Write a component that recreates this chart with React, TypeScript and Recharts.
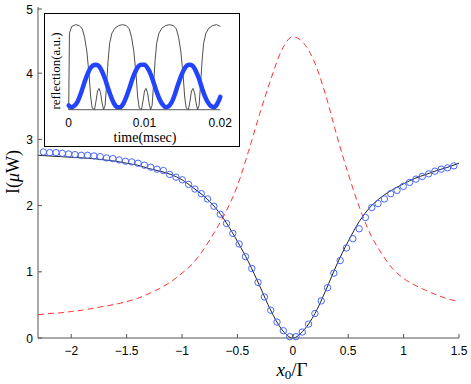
import React from "react";
import { ComposedChart, LineChart, Line, Scatter, XAxis, YAxis } from "recharts";

// measured points (circles)
const circleX = [
  -2.2515, -2.1945, -2.1375, -2.0805, -2.0235, -1.9665, -1.9095, -1.8525, -1.7955, -1.7385,
  -1.6815, -1.6245, -1.5675, -1.5105, -1.4535, -1.3965, -1.3395, -1.2825, -1.2255, -1.1685,
  -1.1115, -1.0545, -0.9975, -0.9405, -0.8835, -0.8265, -0.7695, -0.7125, -0.6555, -0.5985,
  -0.5415, -0.4845, -0.4275, -0.3705, -0.3135, -0.2565, -0.1995, -0.1425, -0.0855, -0.0285,
  0.0285, 0.0855, 0.1425, 0.1995, 0.2565, 0.3135, 0.3705, 0.4275, 0.4845, 0.5415,
  0.5985, 0.6555, 0.7125, 0.7695, 0.8265, 0.8835, 0.9405, 0.9975, 1.0545, 1.1115,
  1.1685, 1.2255, 1.2825, 1.3395, 1.3965, 1.4535,
];
const circleY = [
  2.81, 2.8, 2.8, 2.79, 2.78, 2.77, 2.76, 2.76, 2.75, 2.74,
  2.72, 2.71, 2.69, 2.67, 2.66, 2.64, 2.61, 2.58, 2.55, 2.53,
  2.47, 2.43, 2.39, 2.32, 2.25, 2.18, 2.1, 1.99, 1.87, 1.73,
  1.58, 1.42, 1.23, 1.05, 0.84, 0.62, 0.42, 0.24, 0.11, 0.02,
  0.02, 0.09, 0.21, 0.37, 0.56, 0.76, 0.98, 1.17, 1.36, 1.5,
  1.65, 1.82, 1.97, 2.03, 2.1, 2.18, 2.23, 2.29, 2.35, 2.4,
  2.44, 2.48, 2.52, 2.55, 2.57, 2.6,
];

// theory curves on a 0.1 grid
const gridX = [
  -2.3, -2.2, -2.1, -2.0, -1.9, -1.8, -1.7, -1.6, -1.5, -1.4,
  -1.3, -1.2, -1.1, -1.0, -0.9, -0.8, -0.7, -0.6, -0.5, -0.4,
  -0.3, -0.2, -0.1, 0, 0.1, 0.2, 0.3, 0.4, 0.5, 0.6,
  0.7, 0.8, 0.9, 1.0, 1.1, 1.2, 1.3, 1.4, 1.5,
];
const fitY = [
  2.76, 2.75, 2.74, 2.73, 2.72, 2.71, 2.69, 2.67, 2.64, 2.61,
  2.56, 2.52, 2.47, 2.39, 2.27, 2.14, 1.97, 1.74, 1.46, 1.15,
  0.79, 0.42, 0.13, 0.0, 0.12, 0.37, 0.73, 1.12, 1.46, 1.76,
  1.98, 2.13, 2.24, 2.33, 2.41, 2.47, 2.53, 2.58, 2.64,
];
const redY = [
  0.35, 0.37, 0.38, 0.4, 0.42, 0.45, 0.48, 0.51, 0.55, 0.6,
  0.67, 0.75, 0.85, 0.98, 1.13, 1.35, 1.62, 1.92, 2.3, 2.82,
  3.38, 3.9, 4.35, 4.55, 4.45, 4.15, 3.65, 3.04, 2.48, 1.98,
  1.57, 1.28, 1.05, 0.9, 0.8, 0.72, 0.65, 0.59, 0.55,
];

const xTicks = [-2, -1.5, -1, -0.5, 0, 0.5, 1, 1.5];
const yTicks = [0, 1, 2, 3, 4, 5];

// inset: reflection traces vs time (msec)
const blackT = [
  0, 0.0001, 0.0004, 0.0009, 0.0014, 0.0018, 0.0021, 0.0024, 0.0027, 0.0029,
  0.0031, 0.0034, 0.0036, 0.0038, 0.004, 0.0042, 0.0044, 0.0046, 0.0048, 0.005,
  0.0052, 0.0054, 0.0057, 0.0061, 0.0066, 0.0071, 0.0076, 0.008, 0.0083, 0.0086,
  0.0089, 0.0091, 0.0093, 0.0096, 0.0098, 0.01, 0.0102, 0.0104, 0.0106, 0.0108,
  0.011, 0.0112, 0.0114, 0.0116, 0.0119, 0.0123, 0.0128, 0.0133, 0.0138, 0.0142,
  0.0145, 0.0148, 0.0151, 0.0153, 0.0155, 0.0158, 0.016, 0.0162, 0.0164, 0.0166,
  0.0168, 0.017, 0.0172, 0.0174, 0.0176, 0.0178, 0.0181, 0.0185, 0.019, 0.0195,
  0.02,
];
const blackV = [
  0, 0.9, 0.98, 1.0, 0.99, 0.95, 0.85, 0.68, 0.4, 0.15,
  0.02, 0, 0.1, 0.22, 0.25, 0.2, 0.08, 0, 0.05, 0.3,
  0.58, 0.78, 0.9, 0.96, 0.99, 1.0, 0.99, 0.95, 0.85, 0.68,
  0.4, 0.15, 0.02, 0, 0.1, 0.22, 0.25, 0.2, 0.08, 0,
  0.05, 0.3, 0.58, 0.78, 0.9, 0.96, 0.99, 1.0, 0.99, 0.95,
  0.85, 0.68, 0.4, 0.15, 0.02, 0, 0.1, 0.22, 0.25, 0.2,
  0.08, 0, 0.05, 0.3, 0.58, 0.78, 0.9, 0.96, 0.99, 1.0,
  0.98,
];
const blueT = [
  0, 0.0004, 0.0008, 0.0012, 0.0016, 0.002, 0.0024, 0.0028, 0.0032, 0.0036,
  0.004, 0.0044, 0.0048, 0.0052, 0.0056, 0.006, 0.0064, 0.0068, 0.0072, 0.0076,
  0.008, 0.0084, 0.0088, 0.0092, 0.0096, 0.01, 0.0104, 0.0108, 0.0112, 0.0116,
  0.012, 0.0124, 0.0128, 0.0132, 0.0136, 0.014, 0.0144, 0.0148, 0.0152, 0.0156,
  0.016, 0.0164, 0.0168, 0.0172, 0.0176, 0.018, 0.0184, 0.0188, 0.0192, 0.0196,
  0.02,
];
const blueV = [
  0.05, 0.03, 0.05, 0.1, 0.19, 0.3, 0.4, 0.48, 0.52, 0.53,
  0.51, 0.45, 0.36, 0.25, 0.15, 0.07, 0.03, 0.03, 0.07, 0.15,
  0.25, 0.36, 0.45, 0.51, 0.53, 0.53, 0.49, 0.42, 0.32, 0.21,
  0.12, 0.06, 0.03, 0.04, 0.09, 0.18, 0.29, 0.39, 0.47, 0.52,
  0.53, 0.51, 0.45, 0.36, 0.25, 0.15, 0.08, 0.04, 0.03, 0.07,
  0.15,
];
const insetTicks = [0, 0.01, 0.02];

const circles = circleX.map((x, i) => ({ x, y: circleY[i] }));
const fit = gridX.map((x, i) => ({ x, y: fitY[i] }));
const red = gridX.map((x, i) => ({ x, y: redY[i] }));
const blackTrace = blackT.map((t, i) => ({ t, v: blackV[i] }));
const blueTrace = blueT.map((t, i) => ({ t, v: blueV[i] }));

const AXIS = "#555";
const SANS = "'Liberation Sans', Arial, sans-serif";
const SERIF = "'Liberation Serif', 'Times New Roman', serif";

const fmt = (v: number) => (v < 0 ? "\u2212" + String(-v) : String(v));

function XTick(props: any) {
  const { x, y, payload } = props;
  return (
    <g>
      <line x1={x} x2={x} y1={y} y2={y - 4} stroke={AXIS} />
      <text x={x} y={y + 17} textAnchor="middle" fontSize={12} fontFamily={SANS} fill="#000">
        {fmt(payload.value)}
      </text>
    </g>
  );
}

function YTick(props: any) {
  const { x, y, payload } = props;
  return (
    <g>
      <line x1={x} x2={x + 4} y1={y} y2={y} stroke={AXIS} />
      <text x={x - 5} y={y + 4.5} textAnchor="end" fontSize={12} fontFamily={SANS} fill="#000">
        {fmt(payload.value)}
      </text>
    </g>
  );
}

function InsetTick(props: any) {
  const { x, y, payload } = props;
  return (
    <text x={x} y={y + 17} textAnchor="middle" fontSize={12} fontFamily={SANS} fill="#000">
      {String(payload.value)}
    </text>
  );
}

const Ring = (props: any) => (
  <circle cx={props.cx} cy={props.cy} r={3.2} fill="none" stroke="#4466ff" strokeWidth={1} />
);

export default function App() {
  return (
    <div style={{ position: "absolute", left: 0, top: 0, width: 471, height: 384, background: "#fff" }}>
      <ComposedChart width={471} height={384} margin={{ top: 7, right: 12, left: 8, bottom: 0 }}>
        <XAxis
          type="number"
          dataKey="x"
          domain={[-2.3, 1.5]}
          allowDataOverflow
          ticks={xTicks}
          height={46}
          tickSize={0}
          tickMargin={0}
          tickLine={false}
          axisLine={{ stroke: AXIS }}
          tick={XTick}
        />
        <YAxis
          type="number"
          dataKey="y"
          domain={[0, 5]}
          ticks={yTicks}
          width={30}
          tickSize={0}
          tickMargin={0}
          tickLine={false}
          axisLine={{ stroke: AXIS }}
          tick={YTick}
        />
        <Line
          data={red}
          dataKey="y"
          type="monotone"
          stroke="#ff3333"
          strokeWidth={1}
          strokeDasharray="6 4"
          dot={false}
          isAnimationActive={false}
        />
        <Line
          data={fit}
          dataKey="y"
          type="monotone"
          stroke="#222"
          strokeWidth={1}
          dot={false}
          isAnimationActive={false}
        />
        <Scatter data={circles} dataKey="y" shape={Ring} isAnimationActive={false} />
      </ComposedChart>

      <svg width={471} height={384} style={{ position: "absolute", left: 0, top: 0, pointerEvents: "none" }}>
        <text
          transform="translate(19,172) rotate(-90)"
          textAnchor="middle"
          fontSize={18}
          fontFamily={SERIF}
          fill="#000"
        >
          I(<tspan fontStyle="italic">μ</tspan>W)
        </text>
        <text x={292} y={376} textAnchor="middle" fontSize={19} fontFamily={SERIF} fill="#000">
          <tspan fontStyle="italic">x</tspan>
          <tspan fontSize={13} dy={3}>0</tspan>
          <tspan dy={-3}>/Γ</tspan>
        </text>
      </svg>

      <div
        style={{
          position: "absolute",
          left: 44,
          top: 13,
          width: 196,
          height: 134,
          boxSizing: "border-box",
          border: "1px solid #000",
          background: "#fff",
        }}
      >
        <LineChart width={194} height={132} margin={{ top: 10.7, right: 18.7, left: 23.7, bottom: 0 }}>
          <XAxis
            type="number"
            dataKey="t"
            domain={[0, 0.02]}
            ticks={insetTicks}
            height={36.3}
            tickSize={0}
            tickMargin={0}
            tickLine={false}
            axisLine={{ stroke: AXIS }}
            tick={InsetTick}
          />
          <YAxis type="number" dataKey="v" domain={[0, 1]} hide />
          <Line
            data={blackTrace}
            dataKey="v"
            type="linear"
            stroke="#222"
            strokeWidth={0.8}
            dot={false}
            isAnimationActive={false}
          />
          <Line
            data={blueTrace}
            dataKey="v"
            type="monotone"
            stroke="#2244ff"
            strokeWidth={4.5}
            strokeLinecap="round"
            dot={false}
            isAnimationActive={false}
          />
        </LineChart>
        <svg width={194} height={132} style={{ position: "absolute", left: 0, top: 0, pointerEvents: "none" }}>
          <text
            transform="translate(15,57) rotate(-90)"
            textAnchor="middle"
            fontSize={13}
            fontFamily={SERIF}
            fill="#000"
          >
            reflection(a.u.)
          </text>
          <text x={100} y={128} textAnchor="middle" fontSize={14} fontFamily={SERIF} fill="#000">
            time(msec)
          </text>
        </svg>
      </div>
    </div>
  );
}
